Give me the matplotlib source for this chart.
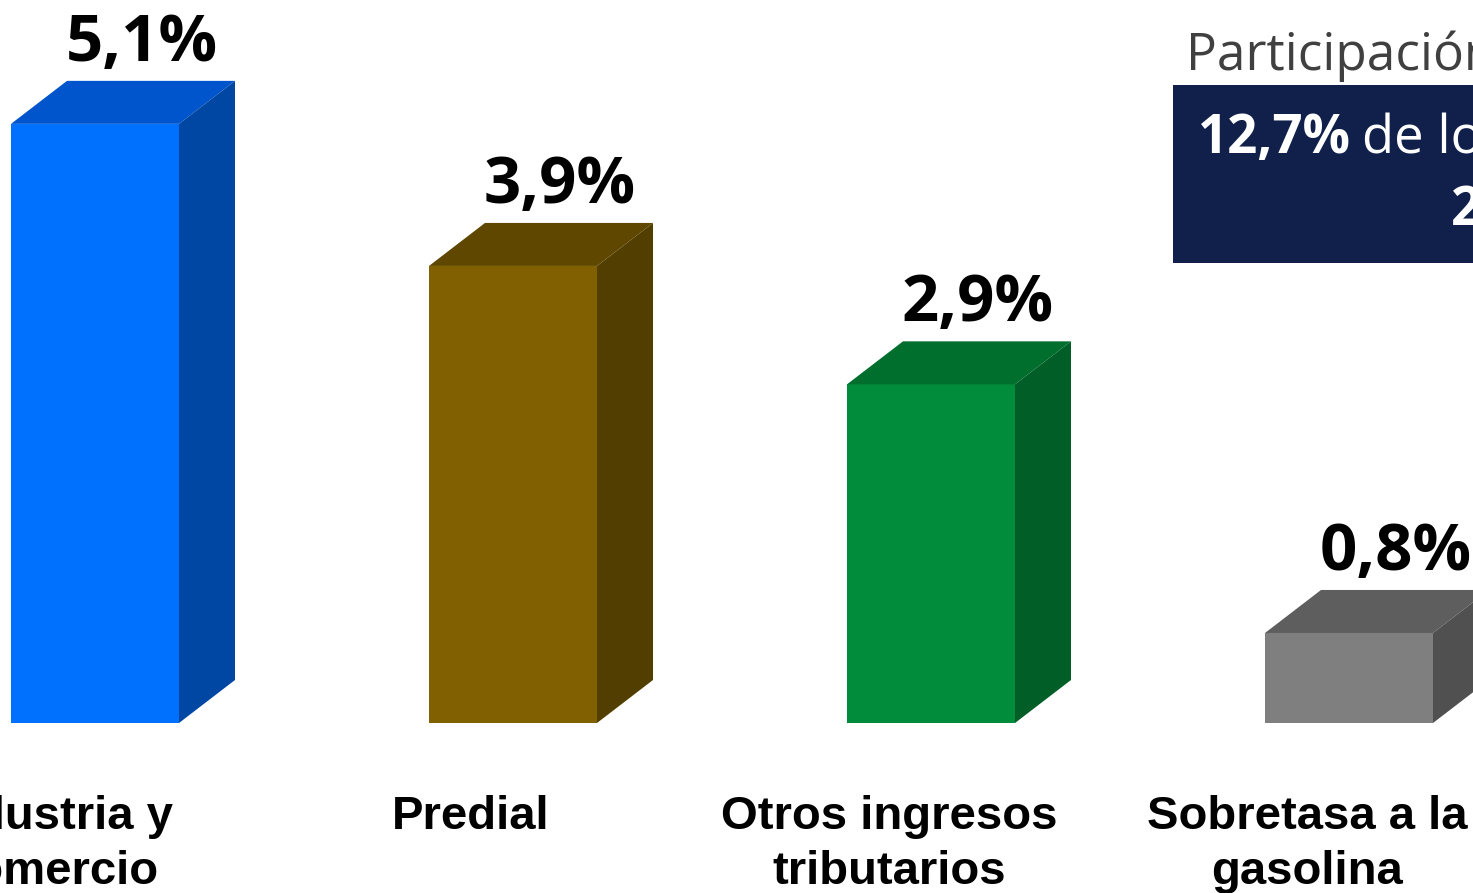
import matplotlib.pyplot as plt
from matplotlib.patches import Polygon, Rectangle

# data
categories = ["Industria y\ncomercio", "Predial", "Otros ingresos\ntributarios", "Sobretasa a la\ngasolina"]
values = [5.1, 3.9, 2.9, 0.8]
value_labels = ["5,1%", "3,9%", "2,9%", "0,8%"]
front_colors = ["#0070FF", "#806000", "#008C3A", "#7F7F7F"]
top_colors = ["#0055CC", "#5F4700", "#006F2D", "#5E5E5E"]
side_colors = ["#0047A3", "#523F00", "#005E26", "#505050"]
box_title = "Participación en el total"
box_bold = "12,7%"
box_rest = "de los ingresos"
box_line2 = "2020"

W, H = 1473, 893
PX_X = 418.0     # pixels per category step
PX_Y = 118.4     # pixels per percentage point
X0 = 95.0        # pixel x of first bar centre
Y0 = 727.7       # pixel row of value 0

fig = plt.figure(figsize=(W / 100, H / 100), dpi=100)
fig.patch.set_facecolor("white")
ax = fig.add_axes([0, 0, 1, 1])
ax.set_xlim(-X0 / PX_X, (W - X0) / PX_X)
ax.set_ylim(-(H - Y0) / PX_Y, Y0 / PX_Y)
ax.axis("off")

bw = 168 / PX_X
dx = 56 / PX_X
dy = 43 / PX_Y
floor = (Y0 - 723) / PX_Y

for i, v in enumerate(values):
    l, r = i - bw / 2, i + bw / 2
    ax.bar(i, v - floor, bottom=floor, width=bw, color=front_colors[i], linewidth=0, zorder=3)
    ax.add_patch(Polygon([(l, v), (r, v), (r + dx, v + dy), (l + dx, v + dy)],
                         closed=True, facecolor=top_colors[i], edgecolor="none", zorder=3))
    ax.add_patch(Polygon([(r, floor), (r + dx, floor + dy), (r + dx, v + dy), (r, v)],
                         closed=True, facecolor=side_colors[i], edgecolor="none", zorder=3))
    ax.text(i + 47 / PX_X, v + dy + 20 / PX_Y, value_labels[i], ha="center", va="baseline",
            fontsize=47, fontweight="bold", family="Open Sans", color="black", zorder=4)
    ax.text(i - 42 / PX_X, -(795 - Y0) / PX_Y, categories[i], ha="center", va="top",
            fontsize=34, fontweight="bold", family="Liberation Sans", color="black",
            linespacing=1.31, zorder=4)


def fx(px):
    return px / W


def fy(py):
    return 1 - py / H


fig.add_artist(Rectangle((fx(1173), fy(263)), fx(1600) - fx(1173), fy(85) - fy(263),
                         transform=fig.transFigure, facecolor="#11204B", edgecolor="none"))
fig.text(fx(1186), fy(70), box_title, ha="left", va="baseline", fontsize=37,
         family="Open Sans", color="#404040")
fig.text(fx(1198), fy(153), box_bold, ha="left", va="baseline", fontsize=38,
         fontweight="bold", family="Open Sans", color="white")
fig.text(fx(1362), fy(153), box_rest, ha="left", va="baseline", fontsize=38,
         family="Open Sans", color="white")
fig.text(fx(1451), fy(225), box_line2, ha="left", va="baseline", fontsize=38,
         fontweight="bold", family="Open Sans", color="white")

fig.savefig("out.png", dpi=100, facecolor="white")
